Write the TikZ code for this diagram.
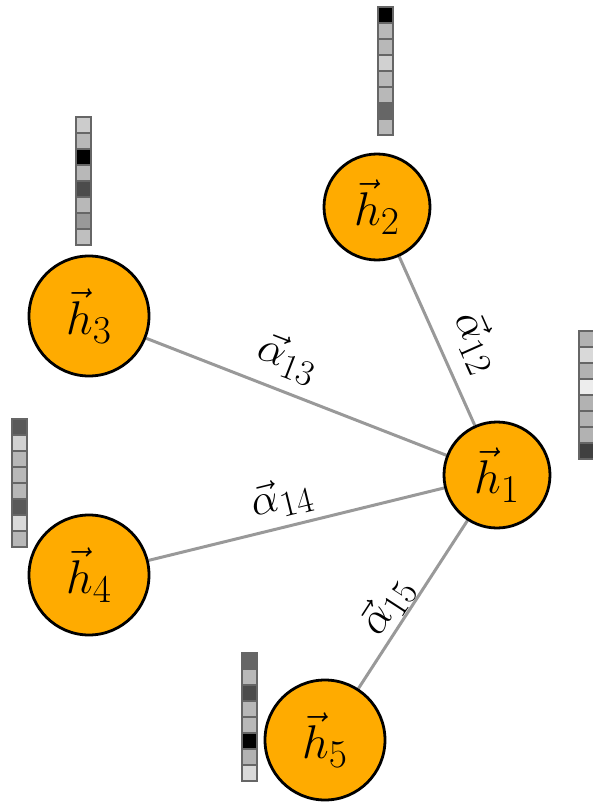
\documentclass[tikz,border=0pt]{standalone}
\usetikzlibrary{backgrounds}
\definecolor{nodeorange}{RGB}{255,171,0}
\definecolor{edgegray}{gray}{0.6}
\newcommand{\bigmath}[2]{\scalebox{#1}{\Huge$#2$}}
\tikzset{
  hnode/.style={circle, draw=black, line width=2.8pt, fill=nodeorange, inner sep=0pt},
  bignode/.style={hnode, minimum size=120pt},
  smallnode/.style={hnode, minimum size=106pt},
  link/.style={draw=edgegray, line width=3pt},
  weight/.style={inner sep=0pt},
  cell/.style={draw=black!60, line width=1.5pt}
}
% column of eight shaded cells; #1,#2 = top-left corner, #3 = black percentages
\newcommand{\featurebar}[3]{%
  \foreach \s [count=\i from 0] in {#3}{%
    \path[cell, fill=black!\s] (#1,#2+\i*16) rectangle ++(15,16);
  }%
}
\begin{document}
\begin{tikzpicture}[x=1pt, y=-1pt]
\useasboundingbox (0,0) rectangle (593,802);

\node[smallnode] (h1) at (497,475) {\bigmath{1.9}{\vec{h}_1}};
\node[smallnode] (h2) at (377,207) {\bigmath{1.9}{\vec{h}_2}};
\node[bignode]   (h3) at (89,316)  {\bigmath{1.9}{\vec{h}_3}};
\node[bignode]   (h4) at (89,575)  {\bigmath{1.9}{\vec{h}_4}};
\node[bignode]   (h5) at (325,740) {\bigmath{1.9}{\vec{h}_5}};

\begin{scope}[on background layer]
  \draw[link] (h2) -- (h1);
  \draw[link] (h3) -- (h1);
  \draw[link] (h4) -- (h1);
  \draw[link] (h5) -- (h1);
\end{scope}

\node[weight, rotate=-65.9] (a12) at (477,342) {\bigmath{1.75}{\vec{\alpha}_{12}}};
\node[weight, rotate=-21.2] (a13) at (288,358) {\bigmath{1.75}{\vec{\alpha}_{13}}};
\node[weight, rotate=13.8]  (a14) at (282,498) {\bigmath{1.75}{\vec{\alpha}_{14}}};
\node[weight, rotate=57]    (a15) at (387,606) {\bigmath{1.75}{\vec{\alpha}_{15}}};

\featurebar{378}{7}{100,28,28,18,28,28,60,28}
\featurebar{76}{117}{20,28,100,28,70,28,40,25}
\featurebar{579}{331}{30,15,30,7,30,30,30,75}
\featurebar{12}{419}{65,18,28,28,28,65,15,28}
\featurebar{242}{653}{60,28,70,28,28,100,30,15}
\end{tikzpicture}
\end{document}
